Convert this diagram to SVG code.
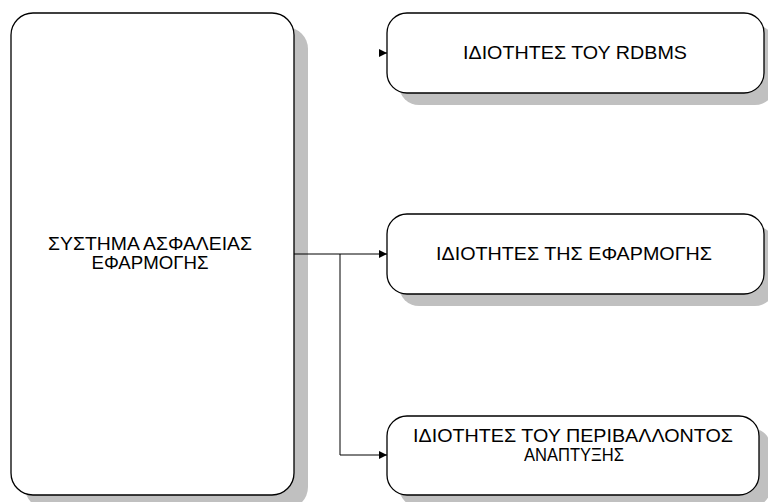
<svg xmlns="http://www.w3.org/2000/svg" width="768" height="502" viewBox="0 0 768 502">
  <defs>
    <marker id="arrow" viewBox="0 0 8 8" refX="8" refY="4" markerWidth="8" markerHeight="8" markerUnits="userSpaceOnUse" orient="auto">
      <path d="M0,0 L8,4 L0,8 Z" fill="#000"/>
    </marker>
  </defs>
  <style>
    .shadow { fill: #c0c0c0; stroke: none; }
    .box { fill: #fff; stroke: #000; stroke-width: 1.3; }
    .label { font-family: "Liberation Sans", Arial, sans-serif; font-size: 17.5px; fill: #000; text-anchor: middle; }
    .conn { fill: none; stroke: #000; stroke-width: 1; }
  </style>
  <rect width="768" height="502" fill="#fff"/>

  <g id="security-system">
    <rect class="shadow" x="25" y="27" width="283" height="482" rx="22" ry="22"/>
    <rect class="box" x="11" y="13" width="283" height="482" rx="22" ry="22"/>
    <text class="label" x="150" y="250" textLength="204" lengthAdjust="spacingAndGlyphs">ΣΥΣΤΗΜΑ ΑΣΦΑΛΕΙΑΣ</text>
    <text class="label" x="150" y="269" textLength="117" lengthAdjust="spacingAndGlyphs">ΕΦΑΡΜΟΓΗΣ</text>
  </g>

  <g id="rdbms-properties">
    <rect class="shadow" x="399" y="25" width="376" height="80" rx="20" ry="20"/>
    <rect class="box" x="387" y="13" width="377" height="80" rx="20" ry="20"/>
    <text class="label" x="575" y="59" textLength="224" lengthAdjust="spacingAndGlyphs">ΙΔΙΟΤΗΤΕΣ ΤΟΥ RDBMS</text>
  </g>

  <g id="application-properties">
    <rect class="shadow" x="399" y="226" width="376" height="80" rx="20" ry="20"/>
    <rect class="box" x="387" y="214" width="377" height="80" rx="20" ry="20"/>
    <text class="label" x="574" y="260" textLength="276" lengthAdjust="spacingAndGlyphs">ΙΔΙΟΤΗΤΕΣ ΤΗΣ ΕΦΑΡΜΟΓΗΣ</text>
  </g>

  <g id="environment-properties">
    <rect class="shadow" x="399" y="428" width="372" height="79" rx="20" ry="20"/>
    <rect class="box" x="387" y="416" width="372" height="79" rx="20" ry="20"/>
    <text class="label" x="573" y="442" textLength="320" lengthAdjust="spacingAndGlyphs">ΙΔΙΟΤΗΤΕΣ ΤΟΥ ΠΕΡΙΒΑΛΛΟΝΤΟΣ</text>
    <text class="label" x="574" y="461" textLength="100" lengthAdjust="spacingAndGlyphs">ΑΝΑΠΤΥΞΗΣ</text>
  </g>

  <g id="connectors">
    <path class="conn" d="M379,53 L387,53" marker-end="url(#arrow)"/>
    <path class="conn" d="M294,254 L387,254" marker-end="url(#arrow)"/>
    <path class="conn" d="M340,254 L340,455 L387,455" marker-end="url(#arrow)"/>
  </g>
</svg>
